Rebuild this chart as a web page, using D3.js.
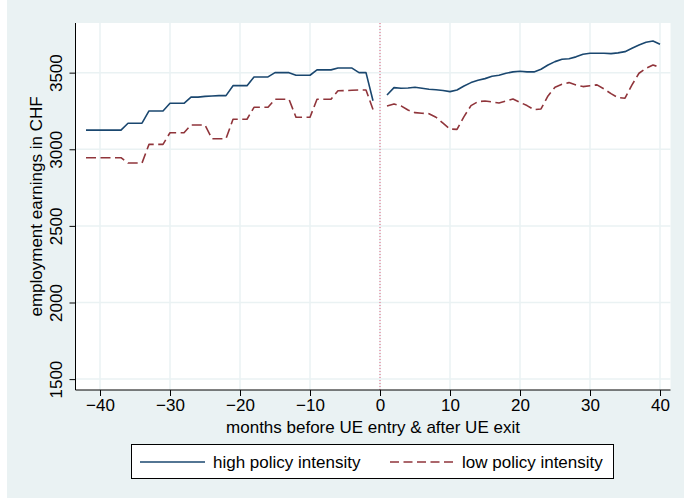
<!DOCTYPE html>
<html>
<head>
<meta charset="utf-8">
<script src="https://cdn.jsdelivr.net/npm/d3@7"></script>
<style>
  html, body { margin: 0; padding: 0; background: #ffffff; }
  svg { display: block; }
  text { font-family: "Liberation Sans", Arial, sans-serif; fill: #000; }
</style>
</head>
<body>
<svg id="chart" width="684" height="498"></svg>
<script>
// Months relative to unemployment entry (negative) and exit (positive)
const monthsBefore = [-42,-41,-40,-39,-38,-37,-36,-35,-34,-33,-32,-31,-30,-29,-28,-27,-26,-25,-24,-23,-22,
                      -21,-20,-19,-18,-17,-16,-15,-14,-13,-12,-11,-10,-9,-8,-7,-6,-5,-4,-3,-2,-1];
const monthsAfter = [1,2,3,4,5,6,7,8,9,10,11,12,13,14,15,16,17,18,19,20,
                     21,22,23,24,25,26,27,28,29,30,31,32,33,34,35,36,37,38,39,40];

// Mean employment earnings (CHF), high policy intensity
const highBefore = [3125,3125,3125,3125,3125,3125,3170,3170,3170,3250,3250,3250,3300,3300,3300,
                    3340,3340,3345,3348,3350,3350,3415,3415,3415,3472,3472,3472,3500,3500,3500,
                    3483,3483,3483,3518,3518,3518,3530,3530,3530,3500,3500,3317];
const highAfter = [3354,3402,3398,3400,3405,3398,3392,3388,3384,3376,3387,3413,3435,3450,3461,
                   3476,3483,3496,3505,3509,3505,3505,3522,3550,3572,3587,3591,3603,3620,3627,
                   3627,3627,3624,3629,3637,3659,3681,3698,3707,3685];

// Mean employment earnings (CHF), low policy intensity
const lowBefore = [2945,2945,2945,2945,2945,2945,2910,2910,2910,3032,3032,3032,3108,3108,3108,
                   3158,3158,3158,3069,3069,3069,3196,3196,3196,3274,3274,3274,3326,3326,3326,
                   3209,3209,3209,3326,3326,3326,3382,3383,3385,3387,3387,3260];
const lowAfter = [3283,3296,3283,3256,3239,3235,3232,3209,3170,3132,3130,3213,3285,3311,3315,
                  3309,3302,3315,3328,3306,3285,3258,3263,3348,3405,3424,3435,3420,3409,3415,
                  3420,3394,3363,3337,3333,3420,3496,3529,3550,3535];

const xTicks = [-40,-30,-20,-10,0,10,20,30,40];
const yTicks = [1500,2000,2500,3000,3500];

const xTitle = "months before UE entry & after UE exit";
const yTitle = "employment earnings in CHF";
const seriesNames = ["high policy intensity", "low policy intensity"];

const colors = { bg: "#eaf2f3", grid: "#eaf2f3", high: "#1a476f", low: "#90353b", ref: "#e2607d" };

const svg = d3.select("#chart");
const W = 684, H = 498;
const plot = { left: 75.5, right: 670.5, top: 23, bottom: 390 };

// background (graph region, with a thin white margin on the left)
svg.append("rect").attr("x", 0).attr("y", 0).attr("width", W).attr("height", H).attr("fill", "#ffffff");
svg.append("rect").attr("x", 7).attr("y", 0).attr("width", W - 7).attr("height", H).attr("fill", colors.bg);
svg.append("rect").attr("x", plot.left).attr("y", plot.top)
  .attr("width", plot.right - plot.left).attr("height", plot.bottom - plot.top).attr("fill", "#ffffff");

const x = d3.scaleLinear().domain([-43.5, 41.5]).range([plot.left, plot.right]);
const y = d3.scaleLinear().domain([1429, 3824]).range([plot.bottom, plot.top]);

// gridlines
const grid = svg.append("g");
grid.selectAll("line.gy").data(yTicks).join("line")
  .attr("x1", plot.left).attr("x2", plot.right)
  .attr("y1", d => y(d)).attr("y2", d => y(d))
  .attr("stroke", colors.grid).attr("stroke-width", 1.5);
grid.selectAll("line.gx").data(xTicks).join("line")
  .attr("y1", plot.top).attr("y2", plot.bottom)
  .attr("x1", d => x(d)).attr("x2", d => x(d))
  .attr("stroke", colors.grid).attr("stroke-width", 1.5);

// reference line at month 0
svg.append("line")
  .attr("x1", x(0)).attr("x2", x(0)).attr("y1", plot.top).attr("y2", plot.bottom)
  .attr("stroke", colors.ref).attr("stroke-width", 1).attr("stroke-dasharray", "1,2");

// axes
const xAxis = d3.axisBottom(x).tickValues(xTicks).tickSize(6).tickPadding(3)
  .tickFormat(d => d3.format("")(d).replace("-", "\u2212"));
const gx = svg.append("g").attr("transform", `translate(0,${plot.bottom})`).call(xAxis);
gx.select(".domain").attr("d", `M${plot.left},0H${plot.right}`).attr("stroke", "#000").attr("stroke-width", 1);
gx.selectAll(".tick line").attr("stroke", "#000");
gx.selectAll(".tick text").attr("font-size", 17).attr("font-family", "Liberation Sans, Arial, sans-serif").attr("dy", "0.72em");

const yAxis = d3.axisLeft(y).tickValues(yTicks).tickSize(6).tickFormat(d3.format(""));
const gy = svg.append("g").attr("transform", `translate(${plot.left},0)`).call(yAxis);
gy.select(".domain").attr("d", `M0,${plot.top}V${plot.bottom}`).attr("stroke", "#000").attr("stroke-width", 1);
gy.selectAll(".tick line").attr("stroke", "#000");
gy.selectAll(".tick text")
  .attr("font-size", 17).attr("font-family", "Liberation Sans, Arial, sans-serif")
  .attr("x", null).attr("dy", null)
  .attr("text-anchor", "middle")
  .attr("transform", "translate(-13.5,0) rotate(-90)");

// axis titles
svg.append("text").attr("x", (plot.left + plot.right) / 2).attr("y", 433)
  .attr("text-anchor", "middle").attr("font-size", 17).text(xTitle);
svg.append("text").attr("transform", `translate(42,${(plot.top + plot.bottom) / 2}) rotate(-90)`)
  .attr("text-anchor", "middle").attr("font-size", 17).text(yTitle);

// series
const line = d3.line().x(d => x(d[0])).y(d => y(d[1]));
const segs = [
  { m: monthsBefore, v: highBefore, c: colors.high, dash: null },
  { m: monthsAfter, v: highAfter, c: colors.high, dash: null },
  { m: monthsBefore, v: lowBefore, c: colors.low, dash: "10,4.5" },
  { m: monthsAfter, v: lowAfter, c: colors.low, dash: "10,4.5" }
];
segs.forEach(s => {
  svg.append("path")
    .datum(s.m.map((m, i) => [m, s.v[i]]))
    .attr("d", line).attr("fill", "none")
    .attr("stroke", s.c).attr("stroke-width", 1.6)
    .attr("stroke-linejoin", "round")
    .attr("stroke-dasharray", s.dash);
});

// legend
const lg = svg.append("g");
lg.append("rect").attr("x", 131.5).attr("y", 444.5).attr("width", 482).attr("height", 34)
  .attr("fill", "#ffffff").attr("stroke", "#000").attr("stroke-width", 1);
lg.append("line").attr("x1", 140).attr("x2", 205).attr("y1", 462).attr("y2", 462)
  .attr("stroke", colors.high).attr("stroke-width", 1.6);
lg.append("text").attr("x", 213).attr("y", 468).attr("font-size", 17).text(seriesNames[0]);
lg.append("line").attr("x1", 390).attr("x2", 453).attr("y1", 462).attr("y2", 462)
  .attr("stroke", colors.low).attr("stroke-width", 1.6).attr("stroke-dasharray", "9,4.5");
lg.append("text").attr("x", 462).attr("y", 468).attr("font-size", 17).text(seriesNames[1]);
</script>
</body>
</html>
